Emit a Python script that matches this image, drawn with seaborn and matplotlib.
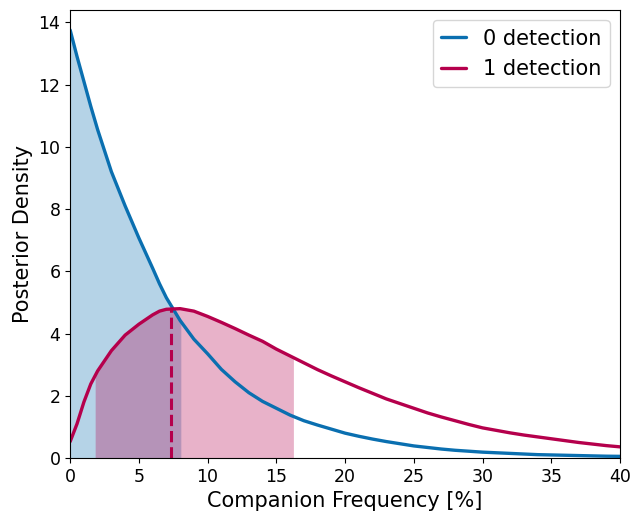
import numpy as np
import pandas as pd
import matplotlib
matplotlib.use("Agg")
import matplotlib.pyplot as plt
import seaborn as sns

# companion frequency grid [%]
freq = [0, 0.5, 1, 1.5, 2, 3, 4, 5, 6, 6.5, 7, 8, 9, 10,
        11, 12, 13, 14, 15, 16, 17, 18, 19, 20,
        21, 22, 23, 24, 25, 26, 27, 28, 29, 30,
        31, 32, 33, 34, 35, 36, 37, 38, 39, 40]

# posterior density, 0 detections
post_0det = [13.75, 12.9, 12.1, 11.3, 10.55, 9.2, 8.1, 7.07, 6.1, 5.6, 5.15, 4.42, 3.82, 3.35,
             2.85, 2.45, 2.1, 1.82, 1.6, 1.38, 1.2, 1.06, 0.93, 0.8,
             0.7, 0.61, 0.53, 0.46, 0.39, 0.34, 0.29, 0.25, 0.22, 0.19,
             0.17, 0.15, 0.13, 0.11, 0.10, 0.09, 0.08, 0.07, 0.06, 0.055]

# posterior density, 1 detection
post_1det = [0.53, 1.1, 1.8, 2.38, 2.8, 3.45, 3.95, 4.3, 4.6, 4.72, 4.78, 4.8, 4.72, 4.55,
             4.36, 4.16, 3.95, 3.75, 3.5, 3.28, 3.06, 2.84, 2.64, 2.45,
             2.26, 2.08, 1.9, 1.75, 1.6, 1.45, 1.32, 1.2, 1.08, 0.97,
             0.89, 0.81, 0.74, 0.68, 0.62, 0.56, 0.5, 0.45, 0.4, 0.36]

# credible intervals and mode
interval_0det = (0.0, 8.05)
interval_1det = (1.82, 16.24)
mode_1det = 7.36

blue = '#0a6fb0'
pink = '#b5004c'

sns.set_style('ticks')
plt.rcParams['font.family'] = ['DejaVu Sans']
for key in ['text.color', 'axes.labelcolor', 'xtick.color', 'ytick.color', 'axes.edgecolor']:
    plt.rcParams[key] = 'black'

df = pd.DataFrame({'freq': freq, '0 detection': post_0det, '1 detection': post_1det})
long = df.melt(id_vars='freq', var_name='case', value_name='density')

fig, ax = plt.subplots(figsize=(6.32, 5.17), dpi=100)
sns.lineplot(data=long, x='freq', y='density', hue='case',
             palette=[blue, pink], linewidth=2.4, ax=ax)


def shade(lo, hi, y, color):
    xs = np.linspace(lo, hi, 300)
    ax.fill_between(xs, 0, np.interp(xs, freq, y), color=color, alpha=0.3, linewidth=0)


shade(*interval_0det, post_0det, blue)
shade(*interval_1det, post_1det, pink)
ax.vlines(mode_1det, 0, np.interp(mode_1det, freq, post_1det), colors=pink,
          linestyles='--', linewidth=2.2)

ax.set_xlim(0, 40)
ax.set_ylim(0, 14.4)
ax.set_xticks([0, 5, 10, 15, 20, 25, 30, 35, 40])
ax.set_yticks([0, 2, 4, 6, 8, 10, 12, 14])
ax.tick_params(labelsize=12.5)
ax.set_xlabel('Companion Frequency [%]', fontsize=15)
ax.set_ylabel('Posterior Density', fontsize=15)
ax.legend(title=None, fontsize=15, loc='upper right', handlelength=1.2)

plt.subplots_adjust(left=0.111, right=0.981, bottom=0.114, top=0.981)
fig.savefig('out.png', dpi=100)
